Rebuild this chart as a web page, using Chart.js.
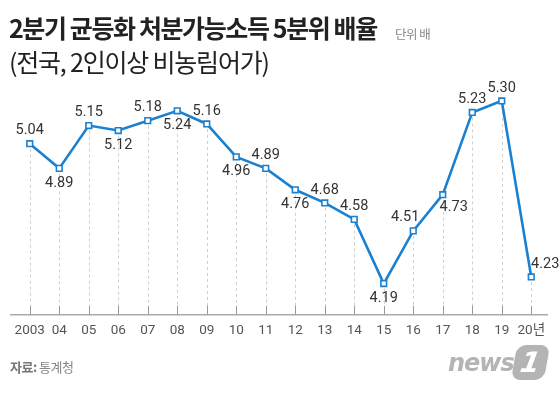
<!DOCTYPE html>
<html>
<head>
<meta charset="utf-8">
<script src="https://cdn.jsdelivr.net/npm/chart.js@4/dist/chart.umd.min.js"></script>
<style>
  html, body { margin: 0; padding: 0; background: #fff; }
  #wrap { position: relative; width: 560px; height: 393px; overflow: hidden; font-family: "Noto Sans CJK KR", sans-serif; }
  #chart { position: absolute; left: 0; top: 0; }
  .title { position: absolute; left: 9px; top: 12px; font-size: 25px; font-weight: 700; color: #222; letter-spacing: -1.4px; line-height: 1.2; white-space: nowrap; }
  .sub { position: absolute; left: 9px; top: 46px; font-size: 25px; font-weight: 400; color: #222; letter-spacing: -1.2px; line-height: 1.2; white-space: nowrap; }
  .unit { position: absolute; left: 395px; top: 24px; font-size: 12.5px; color: #888; letter-spacing: -0.5px; white-space: nowrap; }
  .src { position: absolute; left: 10px; top: 357px; font-size: 13px; color: #888; letter-spacing: -0.5px; white-space: nowrap; }
  .src b { color: #777; }
  .logo { position: absolute; left: 448px; top: 343px; height: 40px; white-space: nowrap; }
  .logo .n { font-family: "DejaVu Sans", sans-serif; font-style: italic; font-weight: 700; font-size: 24px; color: #b4b4b4; letter-spacing: -1px; position: absolute; left: 0; top: 6px; }
  .logo .one { position: absolute; left: 66px; top: 2px; width: 33px; height: 35px; background: #b4b4b4; border-radius: 9px; transform: skewX(-10deg); color: #fff; font-family: "DejaVu Sans", sans-serif; font-weight: 700; font-style: italic; font-size: 28px; line-height: 35px; text-align: center; }
</style>
</head>
<body>
<div id="wrap">
  <canvas id="chart" width="560" height="393"></canvas>
  <div class="title">2분기 균등화 처분가능소득 5분위 배율</div>
  <div class="sub">(전국, 2인이상 비농림어가)</div>
  <div class="unit">단위 배</div>
  <div class="src"><b>자료:</b> 통계청</div>
  <div class="logo"><span class="n">news</span><span class="one">1</span></div>
</div>
<script>
// ---- data ----
const years = ["2003","04","05","06","07","08","09","10","11","12","13","14","15","16","17","18","19","20년"];
const ratio = [5.04, 4.89, 5.15, 5.12, 5.18, 5.24, 5.16, 4.96, 4.89, 4.76, 4.68, 4.58, 4.19, 4.51, 4.73, 5.23, 5.30, 4.23];
const valueLabels = ["5.04","4.89","5.15","5.12","5.18","5.24","5.16","4.96","4.89","4.76","4.68","4.58","4.19","4.51","4.73","5.23","5.30","4.23"];
// label placement: a = above, b = below, al = above-left, br = below-right, ar = above-right
const labelPlace = ["a","b","a","b","a","b","a","b","a","b","a","a","b","al","br","a","a","ar"];

const BLUE = "#1a80cf";

const dropLines = {
  id: "dropLines",
  beforeDatasetsDraw(chart) {
    const ctx = chart.ctx;
    const meta = chart.getDatasetMeta(0);
    const bottom = chart.chartArea.bottom;
    ctx.save();
    ctx.strokeStyle = "#aaaaaa";
    ctx.lineWidth = 1.5;
    ctx.beginPath();
    ctx.moveTo(chart.chartArea.left - 5, bottom);
    ctx.lineTo(chart.chartArea.right + 2, bottom);
    ctx.stroke();
    meta.data.forEach((pt) => {
      ctx.strokeStyle = "#cfcfcf";
      ctx.lineWidth = 1;
      ctx.setLineDash([3, 3]);
      ctx.beginPath();
      ctx.moveTo(Math.round(pt.x) + 0.5, pt.y + 5);
      ctx.lineTo(Math.round(pt.x) + 0.5, bottom - 9);
      ctx.stroke();
      ctx.setLineDash([]);
      ctx.strokeStyle = "#999999";
      ctx.beginPath();
      ctx.moveTo(Math.round(pt.x) + 0.5, bottom - 9);
      ctx.lineTo(Math.round(pt.x) + 0.5, bottom);
      ctx.stroke();
    });
    ctx.restore();
  },
  afterDatasetsDraw(chart) {
    const ctx = chart.ctx;
    const meta = chart.getDatasetMeta(0);
    ctx.save();
    ctx.font = "14.5px Roboto, 'Noto Sans CJK KR', sans-serif";
    ctx.fillStyle = "#333333";
    ctx.textAlign = "center";
    ctx.textBaseline = "middle";
    meta.data.forEach((pt, i) => {
      let dx = 0, dy = -13;
      const p = labelPlace[i];
      if (p === "b") { dy = 15; }
      else if (p === "al") { dx = -8; dy = -14; }
      else if (p === "br") { dx = 11; dy = 13; }
      else if (p === "ar") { dx = 14; dy = -13; }
      ctx.fillText(valueLabels[i], pt.x + dx, pt.y + dy);
    });
    ctx.restore();
  }
};

new Chart(document.getElementById("chart"), {
  type: "line",
  data: {
    labels: years,
    datasets: [{
      data: ratio,
      borderColor: BLUE,
      borderWidth: 2.6,
      tension: 0,
      pointStyle: "rect",
      pointRadius: 4,
      pointBorderWidth: 1.6,
      pointBackgroundColor: "#ffffff",
      pointBorderColor: BLUE
    }]
  },
  options: {
    responsive: false,
    animation: false,
    events: [],
    layout: { padding: { top: 68, left: 15, right: 14, bottom: 46 } },
    plugins: { legend: { display: false }, tooltip: { enabled: false }, title: { display: false } },
    scales: {
      x: {
        offset: true,
        grid: { display: false, drawTicks: false },
        border: { display: false },
        ticks: {
          padding: 8,
          color: "#555555",
          font: { family: "Roboto, 'Noto Sans CJK KR', sans-serif", size: 13.5 },
          maxRotation: 0,
          autoSkip: false
        }
      },
      y: {
        display: false,
        min: 4.0,
        max: 5.5
      }
    }
  },
  plugins: [dropLines]
});
</script>
</body>
</html>
